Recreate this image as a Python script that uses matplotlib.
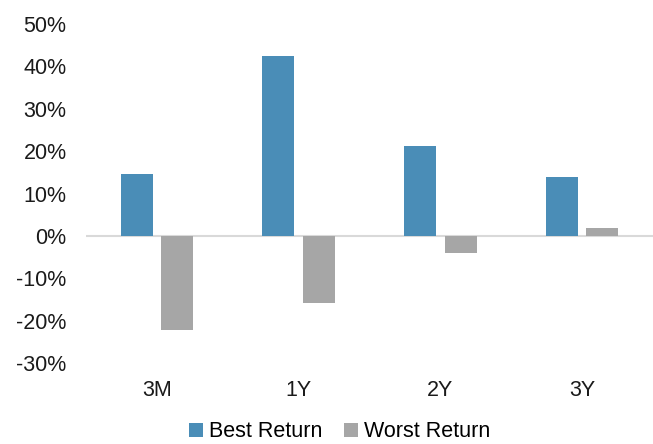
import matplotlib
matplotlib.use("Agg")
import matplotlib.pyplot as plt
import numpy as np

categories = ["3M", "1Y", "2Y", "3Y"]
best_return = [14.5, 42.4, 21.3, 13.8]
worst_return = [-22.1, -15.9, -4.0, 1.8]
y_ticks = [-30, -20, -10, 0, 10, 20, 30, 40, 50]

plt.rcParams['font.family'] = ['Liberation Sans', 'DejaVu Sans']

fig = plt.figure(figsize=(6.53, 4.44), dpi=100)
ax = fig.add_axes([86/653, 1-363/444, 1-86/653, (363-24)/444])

x = np.arange(len(categories))
w = 0.225
off = 0.143
ax.bar(x - off, best_return, w, color="#4a8db7", label="Best Return", zorder=3)
ax.bar(x + off, worst_return, w, color="#a6a6a6", label="Worst Return", zorder=3)
ax.axhline(0, color="#d9d9d9", lw=1.5, zorder=2)

ax.set_xlim(-0.5, len(categories) - 0.5)
ax.set_ylim(-30, 50)
ax.set_yticks(y_ticks)
ax.set_yticklabels([f"{v}%" for v in y_ticks])
ax.set_xticks(x)
ax.set_xticklabels(categories)
ax.tick_params(axis='both', length=0, labelsize=15.5, colors="#1a1a1a")
ax.tick_params(axis='y', pad=14)
ax.tick_params(axis='x', pad=12)
for s in ax.spines.values():
    s.set_visible(False)

fig.legend(loc="lower center", bbox_to_anchor=(0.52, -0.04), ncol=2, frameon=False,
           fontsize=15.5, handlelength=0.65, handleheight=0.65, handletextpad=0.3,
           columnspacing=1.0)

fig.savefig("out.png", dpi=100)
